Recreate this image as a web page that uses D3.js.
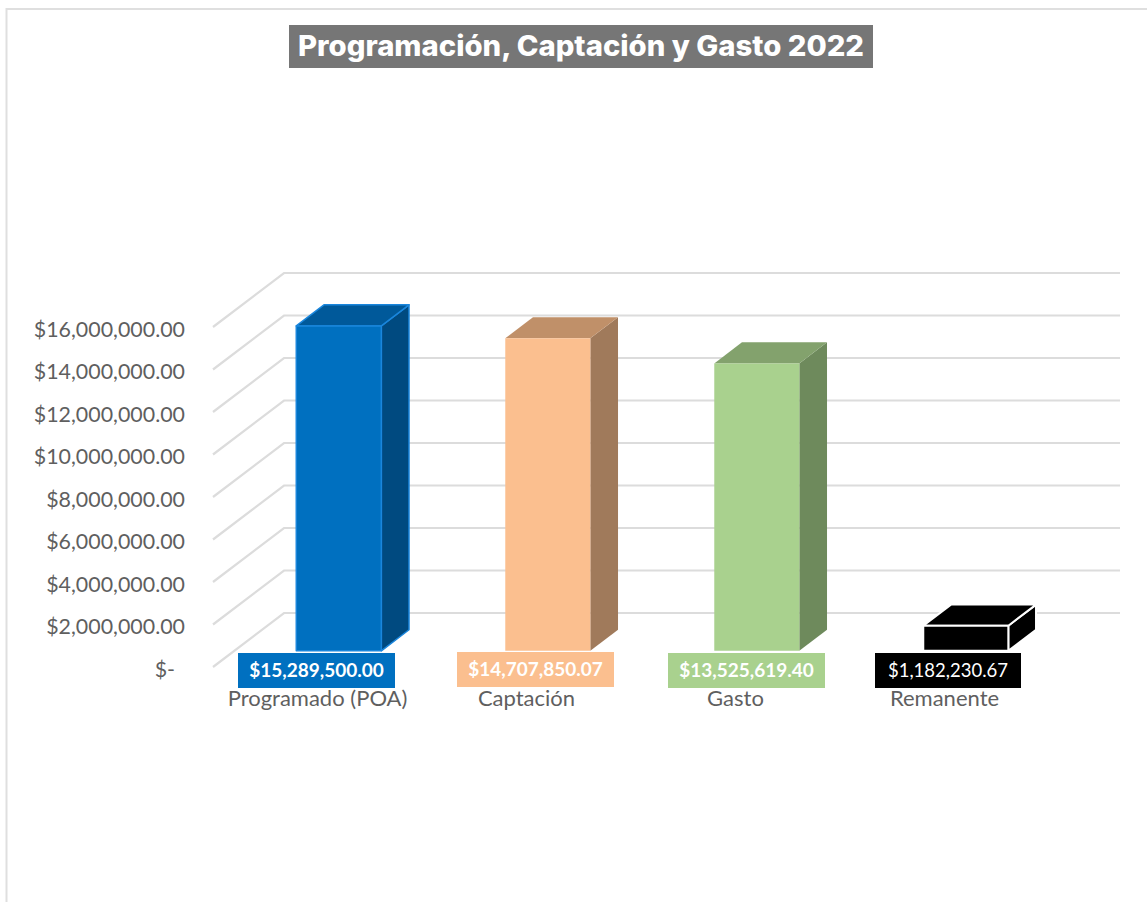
<!DOCTYPE html>
<html><head><meta charset="utf-8">
<script src="https://cdnjs.cloudflare.com/ajax/libs/d3/7.8.5/d3.min.js"></script>
<style>html,body{margin:0;padding:0;background:#fff}svg{display:block}</style>
</head><body><div id="chart"></div>
<script>
const categories = ["Programado (POA)", "Captación", "Gasto", "Remanente"];
const values = [15289500.00, 14707850.07, 13525619.40, 1182230.67];
const valueLabels = ["$15,289,500.00", "$14,707,850.07", "$13,525,619.40", "$1,182,230.67"];
const tickValues = [0, 2000000, 4000000, 6000000, 8000000, 10000000, 12000000, 14000000, 16000000];
const frontColors = ["#0070c0", "#fbbf8f", "#a9d18e", "#000000"];
const sideColors = ["#004a80", "#a07a5b", "#6e8a5c", "#000000"];
const topColors = ["#00599a", "#c09069", "#83a26d", "#000000"];
const edgeColors = ["#1a86dc", "none", "none", "#ffffff"];
const title = "Programación, Captación y Gasto 2022";

const W = 1147, H = 902;
const svg = d3.select("#chart").append("svg").attr("width", W).attr("height", H);

// frame
svg.append("path").attr("d", `M1147,9H6.5V902`).attr("fill", "none").attr("stroke", "#dfdfdf").attr("stroke-width", 2);

// title
svg.append("rect").attr("x", 289).attr("y", 25).attr("width", 584).attr("height", 43).attr("fill", "#767676");
svg.append("text").attr("x", 581).attr("y", 56).attr("text-anchor", "middle")
  .attr("font-family", "Inter, 'Open Sans', sans-serif").attr("font-weight", 800).attr("font-size", 28)
  .attr("textLength", 566).attr("lengthAdjust", "spacingAndGlyphs").attr("fill", "#fff").text(title);

// scales on the front plane; depth shifts everything up and to the right
const y = d3.scaleLinear().domain([0, 16000000]).range([667, 327]);
const x = d3.scaleBand().domain(categories).range([213, 1049]).paddingInner(0.593).paddingOuter(0.2965);
const depthX = 71, depthY = -54;
const floorDepth = 0.3, barDepth = 0.39;
const P = (px, v, d) => [px + d * depthX, y(v) + d * depthY];
const poly = pts => "M" + pts.map(p => p.join(",")).join("L") + "Z";

// gridlines
const grid = svg.append("g").attr("fill", "none").attr("stroke", "#dcdcdc").attr("stroke-width", 2.2);
tickValues.forEach(t => {
  const a = P(213, t, 0), b = P(213, t, 1), c = P(1049, t, 1);
  grid.append("path").attr("d", `M${a}L${b}L${c}`);
});

// axis
const axis = d3.axisLeft(y).tickValues(tickValues).tickSize(0).tickPadding(0)
  .tickFormat(d => d === 0 ? "$-" : "$" + d3.format(",.2f")(d));
const ax = svg.append("g").attr("transform", "translate(185,0)").call(axis);
ax.select(".domain").remove();
ax.selectAll("text").attr("font-family", "Lato, sans-serif").attr("font-size", 21.4).attr("fill", "#5f5f5f").attr("dy", "0.42em")
  .attr("dx", d => d === 0 ? -10 : 0);

// bars
categories.forEach((c, i) => {
  const x0 = x(c), x1 = x0 + x.bandwidth(), v = values[i];
  const d0 = floorDepth, d1 = floorDepth + barDepth;
  const g = svg.append("g").attr("stroke", edgeColors[i]).attr("stroke-width", i === 3 ? 2 : 1.5).attr("stroke-linejoin", "round");
  g.append("path").attr("fill", sideColors[i]).attr("d", poly([P(x1, 0, d0), P(x1, 0, d1), P(x1, v, d1), P(x1, v, d0)]));
  g.append("path").attr("fill", topColors[i]).attr("d", poly([P(x0, v, d0), P(x0, v, d1), P(x1, v, d1), P(x1, v, d0)]));
  g.append("path").attr("fill", frontColors[i]).attr("d", poly([P(x0, 0, d0), P(x1, 0, d0), P(x1, v, d0), P(x0, v, d0)]));
});

// value labels
const labelW = [157, 157, 157, 146];
const labelDX = [-1, 218, 429, 630.5];
const labelY = [653, 652, 653, 653];
categories.forEach((c, i) => {
  const cx = x(categories[0]) + x.bandwidth() / 2 + labelDX[i];
  svg.append("rect").attr("x", cx - labelW[i] / 2).attr("y", labelY[i]).attr("width", labelW[i]).attr("height", 35).attr("fill", frontColors[i]);
  svg.append("text").attr("x", cx).attr("y", labelY[i] + 24).attr("text-anchor", "middle")
    .attr("font-family", "Lato, sans-serif").attr("font-size", i === 3 ? 18.5 : 19).attr("font-weight", i === 3 ? 400 : 700)
    .attr("fill", "#fff").text(valueLabels[i]);
});

// category labels
categories.forEach(c => {
  svg.append("text").attr("x", x(c) + x.bandwidth() / 2).attr("y", 706).attr("text-anchor", "middle")
    .attr("font-family", "Lato, sans-serif").attr("font-size", 22).attr("fill", "#5f5f5f").text(c);
});
</script></body></html>
